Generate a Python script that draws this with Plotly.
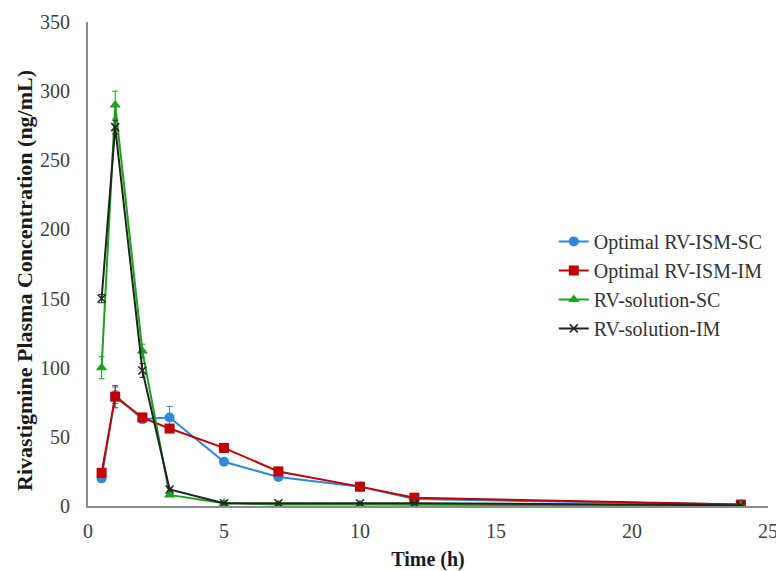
import plotly.graph_objects as go

time_h = [0.5, 1, 2, 3, 5, 7, 10, 12, 24]
ism_sc = [20, 80, 63, 64, 32, 21, 14, 5, 1]
ism_sc_err = [2, 6, 3, 8, 2, 2, 1, 1, 0.5]
ism_im = [24, 79, 64, 56, 42, 25, 14, 6, 1]
ism_im_err = [2, 8, 3, 2, 3, 3, 1, 1, 0.5]
sol_sc = [100, 290, 112, 8, 2, 1, 1, 1, 0.5]
sol_sc_err = [8, 10, 5, 1, 0.5, 0.3, 0.3, 0.3, 0.2]
sol_im = [150, 274, 98, 12, 2, 2, 2, 2, 0.5]
sol_im_err = [3, 5, 5, 1, 0.5, 0.3, 0.3, 0.3, 0.2]

y_title = "Rivastigmine Plasma Concentration (ng/mL)"
x_title = "Time (h)"

series = [
    ("Optimal RV-ISM-SC", ism_sc, ism_sc_err, "#2f88d8", "circle", 10),
    ("Optimal RV-ISM-IM", ism_im, ism_im_err, "#c00000", "square", 10),
    ("RV-solution-SC", sol_sc, sol_sc_err, "#1aa31a", "triangle-up", 10),
    ("RV-solution-IM", sol_im, sol_im_err, "#222222", "x-thin", 8),
]

fig = go.Figure()
for name, y, err, color, sym, size in series:
    marker = dict(symbol=sym, size=size, color=color)
    if sym == "x-thin":
        marker["line"] = dict(color=color, width=1.5)
    fig.add_trace(go.Scatter(
        x=time_h, y=y, name=name, mode="lines+markers",
        line=dict(color=color, width=2),
        marker=marker,
        error_y=dict(type="data", array=err, visible=True, color=color, thickness=1, width=3),
    ))

font_family = "Liberation Serif, Times New Roman, serif"
fig.update_layout(
    width=776, height=563,
    margin=dict(l=80, r=16, t=14, b=65),
    plot_bgcolor="white", paper_bgcolor="white",
    font=dict(family=font_family, size=20, color="#404040"),
    showlegend=True,
    legend=dict(x=0.685, y=0.587, xanchor="left", yanchor="top",
                font=dict(family=font_family, size=20, color="#333333"),
                bgcolor="rgba(0,0,0,0)", tracegroupgap=0),
    xaxis=dict(range=[0, 25], dtick=5, showgrid=False, zeroline=False,
               showline=True, linecolor="#8c8c8c", linewidth=2,
               ticks="", tickfont=dict(size=20), ticklabelstandoff=6, automargin=False,
               title=dict(text="<b>" + x_title + "</b>", font=dict(size=20, color="#1a1a1a"), standoff=12)),
    yaxis=dict(range=[0, 350], dtick=50, showgrid=False, zeroline=False,
               showline=True, linecolor="#8c8c8c", linewidth=2,
               ticks="", tickfont=dict(size=20), ticklabelstandoff=12, automargin=False),
    annotations=[dict(
        text="<b>" + y_title + "</b>", textangle=-90,
        xref="paper", yref="paper", x=-0.0926, y=0.465,
        xanchor="center", yanchor="middle", showarrow=False,
        font=dict(family=font_family, size=22, color="#1a1a1a"),
    )],
)

fig.write_html("out.html")
